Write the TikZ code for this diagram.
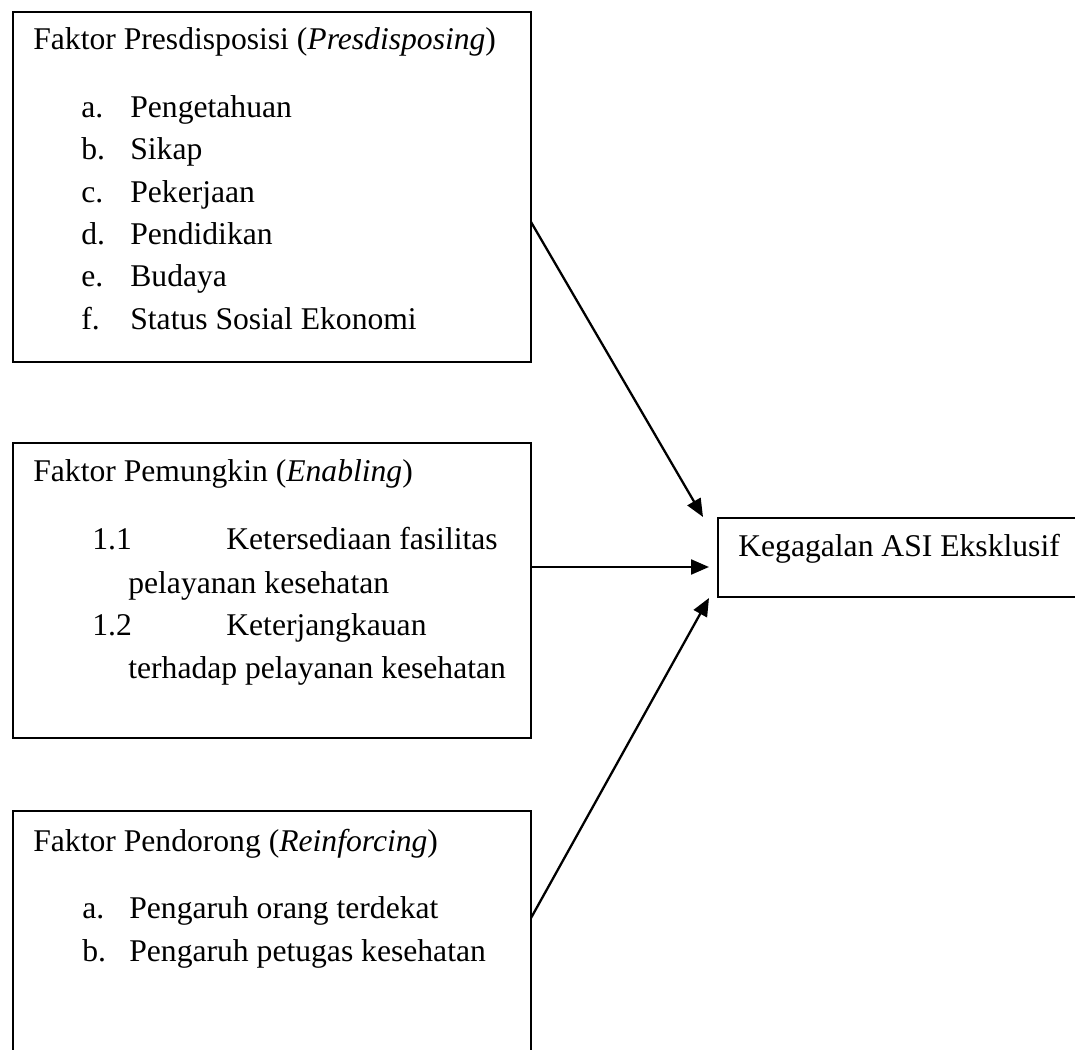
\documentclass[tikz,border=0pt]{standalone}
\usepackage{fontspec}
\setmainfont{Liberation Serif}
\usetikzlibrary{arrows.meta}

\tikzset{
    kotak/.style={draw, line width=1.3pt, anchor=north west, inner sep=0pt, outer sep=0pt},
    teks/.style={anchor=base west, inner sep=0pt, font=\fontsize{18pt}{22pt}\selectfont},
    panah/.style={line width=1.3pt, -{Triangle[length=0.36cm,width=0.3cm]}}
}

\begin{document}
\begin{tikzpicture}[x=0.02cm, y=-0.02cm]
    \clip (0,0) rectangle (1075,1050);

    \node[kotak, minimum width=10.36cm, minimum height=7cm] (presdisposisi) at (13,12) {};
    \node[kotak, minimum width=10.36cm, minimum height=5.9cm] (pemungkin) at (13,443) {};
    \node[kotak, minimum width=10.36cm, minimum height=6cm] (pendorong) at (13,811) {};
    \node[kotak, minimum width=7.44cm, minimum height=1.58cm] (kegagalan) at (718,518) {};

    % faktor presdisposisi
    \node[teks] (judul1) at (33,50) {Faktor Presdisposisi (\textit{Presdisposing})};
    \node[teks] (la) at (81,118) {a.};
    \node[teks] (ta) at (130,118) {Pengetahuan};
    \node[teks] (lb) at (81,160) {b.};
    \node[teks] (tb) at (130,160) {Sikap};
    \node[teks] (lc) at (81,203) {c.};
    \node[teks] (tc) at (130,203) {Pekerjaan};
    \node[teks] (ld) at (81,245) {d.};
    \node[teks] (td) at (130,245) {Pendidikan};
    \node[teks] (le) at (81,287) {e.};
    \node[teks] (te) at (130,287) {Budaya};
    \node[teks] (lf) at (81,330) {f.};
    \node[teks] (tf) at (130,330) {Status Sosial Ekonomi};

    % faktor pemungkin
    \node[teks] (judul2) at (33,482) {Faktor Pemungkin (\textit{Enabling})};
    \node[teks] (l11) at (92,550) {1.1};
    \node[teks] (t11) at (226,550) {Ketersediaan fasilitas};
    \node[teks] (t11b) at (128,593) {pelayanan kesehatan};
    \node[teks] (l12) at (92,635) {1.2};
    \node[teks] (t12) at (226,635) {Keterjangkauan};
    \node[teks] (t12b) at (128,678) {terhadap pelayanan kesehatan};

    % faktor pendorong
    \node[teks] (judul3) at (33,851) {Faktor Pendorong (\textit{Reinforcing})};
    \node[teks] (pa) at (82,918) {a.};
    \node[teks] (qa) at (129,918) {Pengaruh orang terdekat};
    \node[teks] (pb) at (82,961) {b.};
    \node[teks] (qb) at (129,961) {Pengaruh petugas kesehatan};

    \node[teks] (judul4) at (738,557) {Kegagalan ASI Eksklusif};

    \coordinate (s1) at (531,222);
    \coordinate (s2) at (531,567);
    \coordinate (s3) at (531,918);
    \coordinate (e1) at (703,517);
    \coordinate (e2) at (709,567);
    \coordinate (e3) at (709,598);
    \draw[panah] (s1) -- (e1);
    \draw[panah] (s2) -- (e2);
    \draw[panah] (s3) -- (e3);
\end{tikzpicture}
\end{document}
